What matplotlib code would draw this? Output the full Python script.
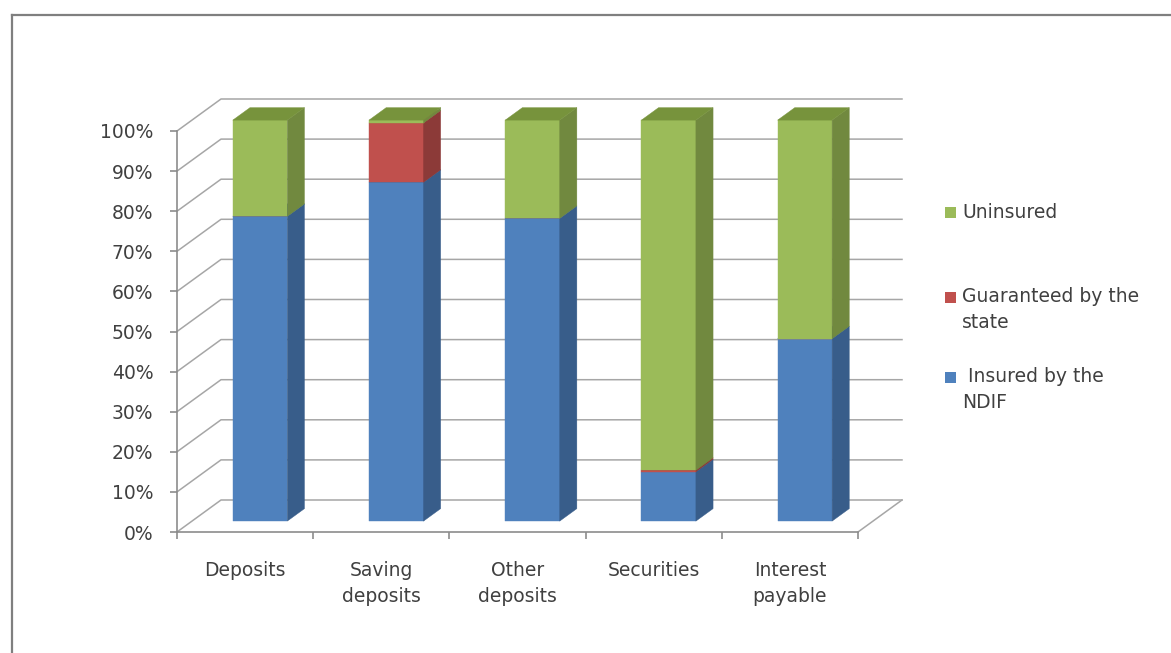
import matplotlib

matplotlib.use("Agg")
import matplotlib.pyplot as plt
import numpy as np
from matplotlib.patches import Polygon, Rectangle
from matplotlib.ticker import PercentFormatter

# ─── data (% of each liability class) ────────────────────────────────────────

categories = ["Deposits", "Saving\ndeposits", "Other\ndeposits", "Securities", "Interest\npayable"]
insured = [76.0, 84.5, 75.5, 12.3, 45.5]
guaranteed = [0.0, 14.8, 0.0, 0.4, 0.0]
uninsured = [24.0, 0.7, 24.5, 87.3, 54.5]

series_names = [" Insured by the\nNDIF", "Guaranteed by the\nstate", "Uninsured"]

# front / side / top shades for each series
FACE = ["#4F81BD", "#C0504D", "#9BBB59"]
SIDE = ["#385D8A", "#8C3A38", "#71893F"]
TOP = ["#436FA5", "#A04340", "#77933C"]

GRID = "#A6A6A6"
TEXT = "#404040"
FONT = 13.5

W, H = 1171, 653

# oblique projection: depth 1 shifts by (DX category units, DY percent)
DX = 44 / 136.2
DY = 32 / 4.01
Z0, Z1 = 0.34, 0.73   # bar front / back depth
BAR_W = 0.40


def shift(x, y, z):
    return x + z * DX, y + z * DY


plt.rcParams["font.family"] = "DejaVu Sans"

fig = plt.figure(figsize=(W / 100, H / 100), dpi=100)
ax = fig.add_axes([177 / W, (H - 532) / H, 681 / W, 401 / H])
ax.set_xlim(-0.5, 4.5)
ax.set_ylim(0, 100)
ax.patch.set_visible(False)

# back wall + left wall gridlines
for v in range(0, 101, 10):
    bx, by = shift(-0.5, v, 1)
    ex, _ = shift(4.5, v, 1)
    ax.plot([-0.5, bx, ex], [v, by, by], color=GRID, lw=1.1, clip_on=False, zorder=1)
# right edge of the floor
fx, fy = shift(4.5, 0, 1)
ax.plot([4.5, fx], [0, fy], color=GRID, lw=1.1, clip_on=False, zorder=1)

# stacked 3d columns
x = np.arange(len(categories))
stack = [insured, guaranteed, uninsured]
bottom = np.zeros(len(categories))
for k, vals in enumerate(stack):
    vals = np.asarray(vals)
    fx0, fy0 = shift(x, bottom, Z0)
    ax.bar(fx0, vals, bottom=fy0, width=BAR_W, color=FACE[k], edgecolor=FACE[k],
           lw=0.3, clip_on=False, zorder=3)
    for i in range(len(categories)):
        if vals[i] <= 0:
            continue
        xl, xr = x[i] - BAR_W / 2, x[i] + BAR_W / 2
        b, t = bottom[i], bottom[i] + vals[i]
        side = [shift(xr, b, Z0), shift(xr, b, Z1), shift(xr, t, Z1), shift(xr, t, Z0)]
        top = [shift(xl, t, Z0), shift(xr, t, Z0), shift(xr, t, Z1), shift(xl, t, Z1)]
        ax.add_patch(Polygon(side, closed=True, fc=SIDE[k], ec=SIDE[k], lw=0.3,
                             clip_on=False, zorder=3))
        ax.add_patch(Polygon(top, closed=True, fc=TOP[k], ec=TOP[k], lw=0.3,
                             clip_on=False, zorder=3))
    bottom = bottom + vals

# axes
for s in ("top", "right"):
    ax.spines[s].set_visible(False)
for s in ("left", "bottom"):
    ax.spines[s].set_color("#8C8C8C")
    ax.spines[s].set_linewidth(1.2)

ax.set_yticks(range(0, 101, 10))
ax.yaxis.set_major_formatter(PercentFormatter(decimals=0))
ax.tick_params(axis="y", length=5, width=1.2, color="#8C8C8C", pad=12,
               labelsize=FONT, labelcolor=TEXT)

ax.set_xticks(x)
ax.set_xticklabels(categories, linespacing=1.45)
ax.set_xticks(np.arange(-0.5, len(categories)), minor=True)
ax.tick_params(axis="x", which="major", length=0, pad=21, labelsize=FONT, labelcolor=TEXT)
ax.tick_params(axis="x", which="minor", length=5, width=1.2, color="#8C8C8C")

# legend, listed top series first
legend_rows = [(2, 213), (1, 297), (0, 377)]
for k, ypix in legend_rows:
    fig.add_artist(Rectangle(((945) / W, (H - ypix - 5.5) / H), 11 / W, 11 / H,
                             transform=fig.transFigure, fc=FACE[k], ec="none"))
    fig.text(962 / W, (H - ypix + 10) / H, series_names[k], fontsize=FONT, color=TEXT,
             va="top", ha="left", linespacing=1.45)

# chart border
fig.add_artist(plt.Line2D([12 / W, 12 / W], [0, (H - 15) / H], color="#7F7F7F", lw=1.6,
                          transform=fig.transFigure))
fig.add_artist(plt.Line2D([12 / W, 1], [(H - 15) / H, (H - 15) / H], color="#7F7F7F",
                          lw=1.6, transform=fig.transFigure))

fig.savefig("out.png", dpi=100)
